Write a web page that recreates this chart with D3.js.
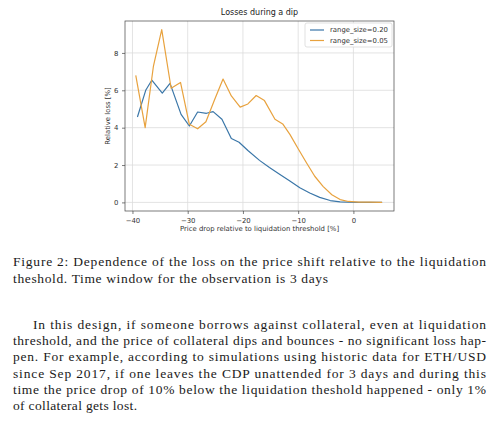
<!DOCTYPE html>
<html><head><meta charset="utf-8">
<script src="https://cdn.jsdelivr.net/npm/d3@7"></script>
<style>
html,body{margin:0;padding:0;background:#fff;}
svg{display:block;}
.serif{font-family:'Liberation Serif','Times New Roman',Times,serif;}
.sans{font-family:'DejaVu Sans',sans-serif;}
</style></head>
<body>
<svg id="c" width="500" height="424"></svg>
<script>
// ---- data ----
const blueX = [-39.1,-37.6,-36.5,-34.6,-33.2,-31.2,-29.7,-28.2,-26.6,-25.4,-23.8,-22.1,-20.7,-19.1,-17.0,-15.2,-13.3,-11.5,-9.7,-7.9,-6.1,-4.2,-2.4,-0.9,1.0,3.0,5.2];
const blueY = [4.57,6.0,6.54,5.85,6.37,4.71,4.09,4.84,4.77,4.86,4.45,3.42,3.22,2.78,2.25,1.87,1.50,1.14,0.78,0.50,0.27,0.10,0.03,0.01,0.0,0.0,0.0];
const orangeX = [-39.4,-37.7,-36.2,-34.7,-33.0,-31.3,-29.7,-28.2,-26.7,-25.1,-23.6,-22.1,-20.5,-19.1,-17.6,-16.1,-14.2,-12.8,-11.5,-10.0,-8.5,-7.0,-5.5,-3.9,-2.4,-0.9,1.0,3.0,5.2];
const orangeY = [6.8,4.0,7.3,9.25,6.11,6.42,4.18,3.94,4.32,5.52,6.6,5.7,5.1,5.27,5.72,5.45,4.45,4.2,3.64,2.87,2.12,1.40,0.86,0.41,0.15,0.05,0.02,0.01,0.0];
const seriesNames = ["range_size=0.20","range_size=0.05"];
const xTicks = [-40,-30,-20,-10,0];
const yTicks = [0,2,4,6,8];
const title = "Losses during a dip";
const xLabel = "Price drop relative to liquidation threshold [%]";
const yLabel = "Relative loss [%]";
const caption = ["Figure 2: Dependence of the loss on the price shift relative to the liquidation",
                 "theshold. Time window for the observation is 3 days"];
const paragraph = ["In this design, if someone borrows against collateral, even at liquidation",
  "threshold, and the price of collateral dips and bounces - no significant loss hap-",
  "pen. For example, according to simulations using historic data for ETH/USD",
  "since Sep 2017, if one leaves the CDP unattended for 3 days and during this",
  "time the price drop of 10% below the liquidation theshold happened - only 1%",
  "of collateral gets lost."];

// ---- layout ----
const svg = d3.select("#c");
const L = 125, R = 394, T = 21, B = 211;
const colors = ["#3a76a8", "#e8a23e"];
const x = d3.scaleLinear().domain([-41.35, 7.35]).range([L, R]);
const y = d3.scaleLinear().domain([-0.46, 9.71]).range([B, T]);

// grid
svg.append("g").selectAll("line").data(xTicks).join("line")
  .attr("x1", d => x(d)).attr("x2", d => x(d)).attr("y1", T).attr("y2", B)
  .attr("stroke", "#dcdcdc").attr("stroke-width", 0.8);
svg.append("g").selectAll("line").data(yTicks).join("line")
  .attr("y1", d => y(d)).attr("y2", d => y(d)).attr("x1", L).attr("x2", R)
  .attr("stroke", "#dcdcdc").attr("stroke-width", 0.8);

// axes
const fmt = d => d < 0 ? "\u2212" + Math.abs(d) : String(d);
const xa = svg.append("g").attr("transform", `translate(0,${B})`)
  .call(d3.axisBottom(x).tickValues(xTicks).tickFormat(fmt).tickSize(3).tickSizeOuter(0));
const ya = svg.append("g").attr("transform", `translate(${L},0)`)
  .call(d3.axisLeft(y).tickValues(yTicks).tickFormat(fmt).tickSize(3).tickSizeOuter(0));
[xa, ya].forEach(g => {
  g.attr("font-family", null).attr("font-size", null).attr("class", "sans");
  g.select(".domain").remove();
  g.selectAll("line").attr("stroke", "#444").attr("stroke-width", 0.7);
  g.selectAll("text").attr("font-size", 6.9).attr("fill", "#333");
});
xa.selectAll("text").attr("dy", "0.9em");
ya.selectAll("text").attr("dx", "-0.1em");

// frame
svg.append("rect").attr("x", L).attr("y", T).attr("width", R - L).attr("height", B - T)
  .attr("fill", "none").attr("stroke", "#444").attr("stroke-width", 0.7);

// lines
const line = d3.line().x(d => x(d[0])).y(d => y(d[1]));
const series = [d3.zip(blueX, blueY), d3.zip(orangeX, orangeY)];
series.forEach((s, i) => {
  svg.append("path").datum(s).attr("d", line).attr("fill", "none")
    .attr("stroke", colors[i]).attr("stroke-width", 1.2).attr("stroke-linejoin", "round");
});

// title & labels
svg.append("text").attr("class", "sans").attr("x", (L + R) / 2).attr("y", 15).attr("text-anchor", "middle")
  .attr("font-size", 8).attr("fill", "#222").text(title);
svg.append("text").attr("class", "sans").attr("x", (L + R) / 2).attr("y", 231).attr("text-anchor", "middle")
  .attr("font-size", 6.9).attr("fill", "#333").text(xLabel);
svg.append("text").attr("class", "sans").attr("transform", `translate(110,${(T + B) / 2}) rotate(-90)`).attr("text-anchor", "middle")
  .attr("font-size", 6.9).attr("fill", "#333").text(yLabel);

// legend
const lg = svg.append("g");
lg.append("rect").attr("x", 305).attr("y", 23).attr("width", 87).attr("height", 24).attr("rx", 2)
  .attr("fill", "#fff").attr("fill-opacity", 0.85).attr("stroke", "#d4d4d4").attr("stroke-width", 0.7);
seriesNames.forEach((n, i) => {
  const yy = 30 + i * 10.5;
  lg.append("line").attr("x1", 310).attr("x2", 324).attr("y1", yy).attr("y2", yy)
    .attr("stroke", colors[i]).attr("stroke-width", 1.2);
  lg.append("text").attr("class", "sans").attr("x", 330).attr("y", yy).attr("dy", "0.35em")
    .attr("font-size", 6.9).attr("fill", "#333").text(n);
});

// caption and paragraph
const capW = [473, 315];
caption.forEach((t, i) => {
  svg.append("text").attr("class", "serif").attr("x", 13).attr("y", 266 + i * 17)
    .attr("font-size", 13.5).attr("fill", "#1a1a1a").attr("textLength", capW[i]).attr("lengthAdjust", "spacing").text(t);
});
const parX = [33, 13, 13, 13, 13, 13];
const parW = [453, 473, 473, 473, 473, 124];
paragraph.forEach((t, i) => {
  svg.append("text").attr("class", "serif").attr("x", parX[i]).attr("y", 329 + i * 16.2)
    .attr("font-size", 13.5).attr("fill", "#1a1a1a").attr("textLength", parW[i]).attr("lengthAdjust", "spacing").text(t);
});
</script>
</body></html>
